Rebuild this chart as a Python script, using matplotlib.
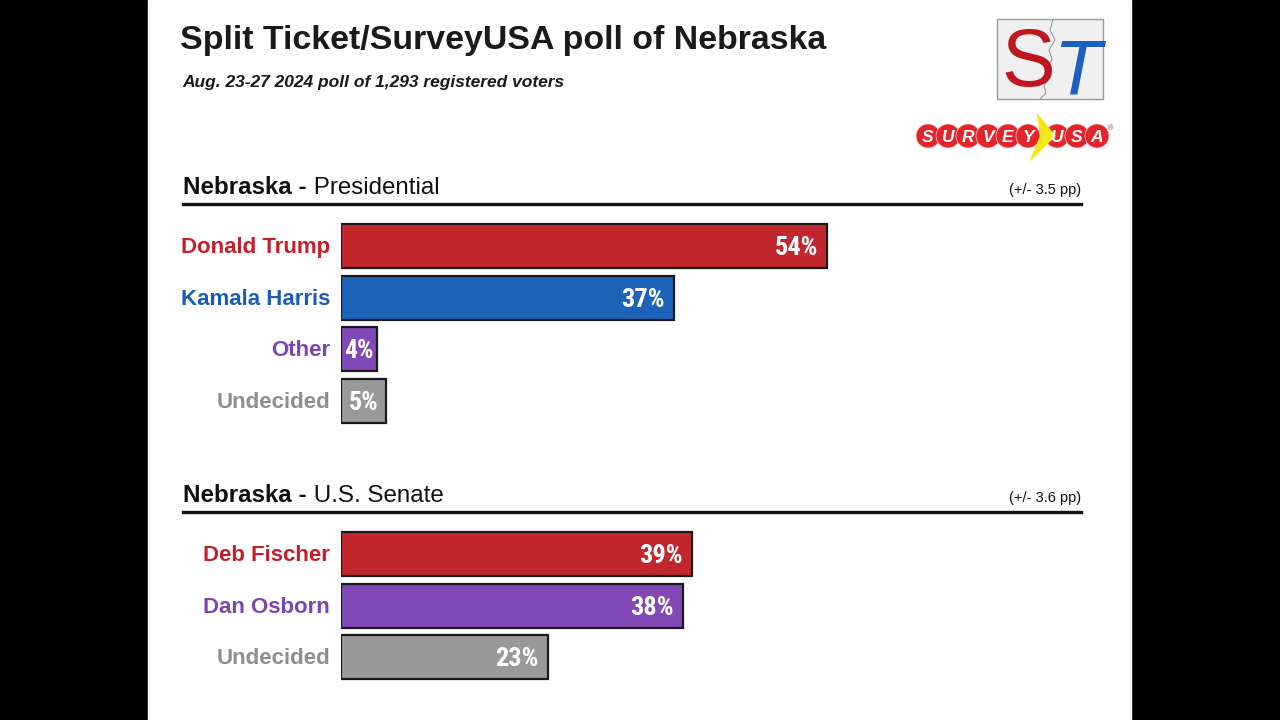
import matplotlib
matplotlib.use("Agg")
import matplotlib.pyplot as plt
from matplotlib import font_manager
from matplotlib.patches import Rectangle, Circle, Polygon, FancyBboxPatch
from matplotlib.lines import Line2D

plt.rcParams["font.family"] = ["Liberation Sans", "DejaVu Sans"]

title = "Split Ticket/SurveyUSA poll of Nebraska"
subtitle = "Aug. 23-27 2024 poll of 1,293 registered voters"

pres_names = ["Donald Trump", "Kamala Harris", "Other", "Undecided"]
pres_values = [54, 37, 4, 5]
pres_colors = ["#C1272D", "#1C62B9", "#8049B6", "#999999"]
pres_text_colors = ["#C41E2A", "#1A5DB8", "#7E44B6", "#8E8E8E"]
pres_moe = "(+/- 3.5 pp)"

sen_names = ["Deb Fischer", "Dan Osborn", "Undecided"]
sen_values = [39, 38, 23]
sen_colors = ["#C1272D", "#8049B6", "#999999"]
sen_text_colors = ["#C41E2A", "#7E44B6", "#8E8E8E"]
sen_moe = "(+/- 3.6 pp)"

logo_letters = ["S", "U", "R", "V", "E", "Y", "U", "S", "A"]


def narrow_font():
    for fam in ["Roboto Condensed", "Liberation Sans Narrow", "Open Sans Condensed"]:
        try:
            p = font_manager.FontProperties(family=fam, weight="bold")
            font_manager.findfont(p, fallback_to_default=False)
            return p
        except Exception:
            pass
    return font_manager.FontProperties(family="Liberation Sans", weight="bold")


W, H = 1280, 720
PX = 9.0  # pixels per percentage point
fig = plt.figure(figsize=(12.8, 7.2), dpi=100, facecolor="black")

bg = fig.add_axes([0, 0, 1, 1])
bg.set_xlim(0, W)
bg.set_ylim(H, 0)
bg.axis("off")
bg.add_patch(Rectangle((148, 0), 983, H, color="white", zorder=0))

bg.text(180, 49, title, fontsize=24.4, fontweight="bold", color="#1a1a1a", va="baseline")
bg.text(182, 87, subtitle, fontsize=12.5, fontweight="bold", style="italic",
        color="#1a1a1a", va="baseline")


def section_header(y_base, y_line, second, moe):
    t1 = bg.text(183, y_base, "Nebraska -", fontsize=17.4, fontweight="bold",
                 color="#111111", va="baseline")
    bg.annotate(" " + second, xy=(1, 0), xycoords=t1, va="bottom", ha="left",
                fontsize=17.4, color="#111111")
    bg.text(1081, y_base, moe, fontsize=10.5, color="#111111", ha="right", va="baseline")
    bg.add_line(Line2D([183, 1081], [y_line, y_line], color="#111111", lw=2.4))


section_header(194, 204, "Presidential", pres_moe)
section_header(502, 512, "U.S. Senate", sen_moe)

# ST logo
bg.add_patch(Rectangle((997, 19), 106, 80, facecolor="#F0F0F0", edgecolor="#9a9a9a", lw=1))
bg.add_line(Line2D([1053, 1050, 1055, 1049, 1052, 1046, 1049, 1044, 1046, 1040],
                   [19, 30, 40, 50, 60, 68, 78, 86, 93, 99], color="#9a9a9a", lw=0.8))
bg.text(1028, 86, "S", fontsize=58, color="#C0161F", ha="center", va="baseline")
bg.text(1077, 95, "T", fontsize=56, color="#1F5FC0", ha="center", va="baseline",
        style="italic")

# SurveyUSA logo
xs = [928, 948, 968, 988, 1008, 1028, 1057, 1077, 1097]
bg.add_patch(FancyBboxPatch((928, 130), 169, 12, boxstyle="round,pad=0",
                            facecolor="#E3242B", edgecolor="none", zorder=1))
for x in xs:
    bg.add_patch(Circle((x, 136), 12, facecolor="#E3242B", edgecolor="#F7D0D0", lw=0.5, zorder=2))
bg.add_patch(Polygon([(1037, 113), (1056, 136), (1029, 162), (1040, 136)],
                     closed=True, facecolor="#F5E71C", edgecolor="none", zorder=3))
for x, ch in zip(xs, logo_letters):
    bg.text(x, 137, ch, fontsize=12.5, fontweight="bold", style="italic", color="white",
            ha="center", va="center", zorder=4)
bg.text(1111, 129, "®", fontsize=5, color="#E3242B", ha="center", va="center")

vfont = narrow_font()


def bar_block(top_px, names, values, colors, text_colors):
    n = len(names)
    step = 51.7
    left, right = 341, 1081
    ax = fig.add_axes([left / W, 1 - (top_px + n * step) / H, (right - left) / W, n * step / H])
    ax.set_xlim(0, (right - left) / PX)
    ax.set_ylim(n - 0.5, -0.5)
    ax.axis("off")
    ax.patch.set_alpha(0)
    ax.barh(range(n), values, height=0.85, color=colors, edgecolor="#1a1a1a", linewidth=1.6)
    for i, (name, v) in enumerate(zip(names, values)):
        ax.text(-11 / PX, i + 0.03, name, fontsize=16, fontweight="bold",
                color=text_colors[i], ha="right", va="center")
        if v < 8:
            ax.text(v / 2, i + 0.04, f"{v}%", fontproperties=vfont, fontsize=18.5,
                    color="white", ha="center", va="center")
        else:
            ax.text(v - 9 / PX, i + 0.04, f"{v}%", fontproperties=vfont, fontsize=19,
                    color="white", ha="right", va="center")


bar_block(220, pres_names, pres_values, pres_colors, pres_text_colors)
bar_block(528, sen_names, sen_values, sen_colors, sen_text_colors)

fig.savefig("out.png", dpi=100, facecolor="black")
